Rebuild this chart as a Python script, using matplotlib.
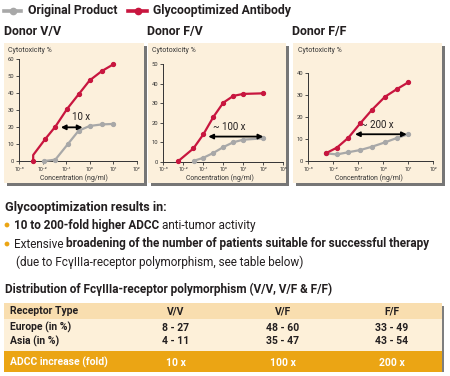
import matplotlib
matplotlib.use('Agg')
import matplotlib.pyplot as plt
from matplotlib.patches import Rectangle, Circle
from matplotlib.lines import Line2D
from matplotlib.ticker import FixedLocator, NullLocator

W, H = 450, 376
FAM = ['Roboto', 'DejaVu Sans']
RED = '#c8163f'
GRAY = '#a8a8a8'
DARK = '#231f20'
BEIGE = '#fcf0dc'
ORANGE = '#eba514'
TH_BG = '#f9deaf'
TB_BG = '#fdf0d9'

# ---------------- data ----------------
series_names = ['Original Product', 'Glycooptimized Antibody']
donors = ['Donor V/V', 'Donor F/V', 'Donor F/F']

vv_red_conc = [0.004, 0.004, 0.013, 0.035, 0.11, 0.34, 1.0, 3.3, 10.0]
vv_red_val = [0, 3.5, 12.9, 20.2, 30.6, 39.2, 47.4, 52.9, 56.8]
vv_gray_conc = [0.012, 0.035, 0.12, 0.34, 1.0, 3.2, 10.0]
vv_gray_val = [0, 0.8, 10.0, 17.8, 20.6, 21.5, 21.8]

fv_red_conc = [0.0056, 0.032, 0.1, 0.32, 1.0, 3.2, 10.0, 100.0]
fv_red_val = [0.3, 6.8, 14.0, 23.0, 30.3, 33.8, 34.8, 35.1]
fv_gray_conc = [0.035, 0.1, 0.32, 1.0, 3.2, 10.0, 100.0]
fv_gray_val = [0.5, 2.0, 4.5, 7.5, 10.0, 11.3, 12.0]

ff_conc = [0.005, 0.014, 0.04, 0.12, 0.35, 1.17, 3.5, 10.0]
ff_red_val = [3.5, 6.1, 10.6, 17.2, 23.3, 29.3, 32.8, 35.9]
ff_gray_val = [3.5, 3.0, 4.0, 5.0, 6.5, 8.5, 10.5, 12.2]

fold_labels = ['10 x', '~ 100 x', '~ 200 x']
arrow_from = [0.060, 0.178, 0.074]
arrow_to = [0.50, 100.0, 8.7]
arrow_y = [19.8, 12.9, 12.2]
label_x = [0.44, 1.95, 0.56]
label_y = [26.0, 18.0, 16.4]

y_max = [60, 50, 40]
x_max = [1e2, 1e3, 1e2]
SUP = {'-': '\u207b', '0': '\u2070', '1': '\u00b9', '2': '\u00b2', '3': '\u00b3'}

table_header = ['Receptor Type', 'V/V', 'V/F', 'F/F']
table_europe = ['Europe (in %)', '8 - 27', '48 - 60', '33 - 49']
table_asia = ['Asia (in %)', '4 - 11', '35 - 47', '43 - 54']
table_adcc = ['ADCC increase (fold)', '10 x', '100 x', '200 x']

# ---------------- figure ----------------
fig = plt.figure(figsize=(W / 100, H / 100), dpi=100)
fig.patch.set_facecolor('white')
bg = fig.add_axes([0, 0, 1, 1])
bg.set_xlim(0, W)
bg.set_ylim(H, 0)
bg.axis('off')
renderer = fig.canvas.get_renderer()


def width_of(s, size, weight='normal'):
    t = bg.text(0, 0, s, fontsize=size, fontweight=weight, family=FAM)
    w = t.get_window_extent(renderer).width
    t.remove()
    return w


def space_w(size, weight):
    return 0.8 * (width_of('a a', size, weight) - width_of('aa', size, weight))


def pieces_width(pieces, size):
    tot = 0
    for s, wt in pieces:
        st = s.rstrip(' ')
        tot += width_of(st, size, wt) + (len(s) - len(st)) * space_w(size, wt)
    return tot


def fit(pieces, target):
    return 10 * target / pieces_width(pieces, 10)


def put(x, y, pieces, size, color=DARK):
    cx = x
    for s, wt in pieces:
        st = s.rstrip(' ')
        bg.text(cx, y, st, fontsize=size, fontweight=wt, family=FAM,
                color=color, va='center', ha='left')
        cx += width_of(st, size, wt) + (len(s) - len(st)) * space_w(size, wt)


def sup_label(e):
    return '10' + ''.join(SUP[c] for c in str(e))


# legend
leg_size = fit([(series_names[0], 'bold')], 90)
bg.add_line(Line2D([4, 21], [10.7, 10.7], color=GRAY, lw=2.6))
bg.plot([12.5], [10.7], 'o', color=GRAY, ms=4.5)
put(28.3, 10.7, [(series_names[0], 'bold')], leg_size)
bg.add_line(Line2D([128, 147], [10.7, 10.7], color=RED, lw=2.6))
bg.plot([137.5], [10.7], 'o', color=RED, ms=4.5)
put(152.7, 10.7, [(series_names[1], 'bold')], leg_size)

# donor titles
don_size = fit([(donors[0], 'bold')], 57.7)
for x, d in zip([4, 146.7, 292], donors):
    put(x, 31.7, [(d, 'bold')], don_size)

# panels
panel_boxes = [(4, 42.7, 144, 183), (148, 42.7, 285.5, 183), (293, 42.7, 441.5, 183)]
axes_boxes = [(19, 136.7, 161, 59), (163.3, 283.3, 161.7, 64.3), (308.3, 433.3, 161, 73.3)]
xlabel_cx = [74, 220, 369]
cyto_x = [8.3, 151.7, 298.3]

small_size = fit([('Cytotoxicity %', 'normal')], 43)
conc_size = fit([('Concentration (ng/ml)', 'normal')], 68)
fold_size = fit([('~ 200 x', 'normal')], 33)

for (l, t, r, b) in panel_boxes:
    bg.add_patch(Rectangle((l + 3, t + 3), r - l, b - t, color='#5e5e5e', alpha=0.85, lw=0))
    bg.add_patch(Rectangle((l, t), r - l, b - t, color=BEIGE, lw=0))

red_sets = [(vv_red_conc, vv_red_val), (fv_red_conc, fv_red_val), (ff_conc, ff_red_val)]
gray_sets = [(vv_gray_conc, vv_gray_val), (fv_gray_conc, fv_gray_val), (ff_conc, ff_gray_val)]

for i in range(3):
    x0, x1, yb, yt = axes_boxes[i]
    ax = fig.add_axes([x0 / W, 1 - yb / H, (x1 - x0) / W, (yb - yt) / H])
    ax.set_facecolor('none')
    ax.set_xscale('log')
    ax.set_xlim(1e-3, x_max[i])
    ax.set_ylim(0, y_max[i])
    for s in ['top', 'right']:
        ax.spines[s].set_visible(False)
    for s in ['left', 'bottom']:
        ax.spines[s].set_linewidth(0.7)
        ax.spines[s].set_color('#333333')
    ax.xaxis.set_minor_locator(NullLocator())
    exps = list(range(-3, 3 if x_max[i] == 1e2 else 4))
    ax.xaxis.set_major_locator(FixedLocator([10.0 ** e for e in exps]))
    ax.set_xticklabels([sup_label(e) for e in exps])
    ax.set_yticks(list(range(0, y_max[i] + 1, 10)))
    ax.tick_params(axis='both', direction='out', length=2, width=0.6,
                   colors='#333333', labelsize=4.2, pad=1.5)
    ax.tick_params(axis='x', labelsize=3.8, pad=2)
    for lab in ax.get_yticklabels() + ax.get_xticklabels():
        lab.set_family(FAM)
    gx, gy = gray_sets[i]
    ax.plot(gx, gy, '-o', color=GRAY, lw=1.6, ms=2.8, clip_on=False, zorder=3)
    rx, ry = red_sets[i]
    me = [k for k in range(len(rx)) if not (i == 0 and k == 1)]
    ax.plot(rx, ry, '-o', color=RED, lw=1.6, ms=2.8, markevery=me, clip_on=False, zorder=4)
    ax.annotate('', xy=(arrow_to[i], arrow_y[i]), xytext=(arrow_from[i], arrow_y[i]),
                arrowprops=dict(arrowstyle='<|-|>', color='black', lw=1.3,
                                mutation_scale=7, shrinkA=0, shrinkB=0), zorder=5)
    ax.text(label_x[i], label_y[i], fold_labels[i], fontsize=fold_size, family=FAM,
            ha='center', va='center', color=DARK)
    put(cyto_x[i], 50, [('Cytotoxicity %', 'normal')], small_size, color='#333333')
    bg.text(xlabel_cx[i], 177.7, 'Concentration (ng/ml)', fontsize=conc_size, family=FAM,
            ha='center', va='center', color='#333333')

# text section
head = [('Glycooptimization results in:', 'bold')]
put(5, 207.3, head, fit(head, 163))
line2 = [('Extensive ', 'normal'),
         ('broadening of the number of patients suitable for successful therapy', 'bold')]
body_size = fit(line2, 418)
line1 = [('10 to 200-fold higher ADCC ', 'bold'), ('anti-tumor activity', 'normal')]
line3 = [('(due to Fc\u03b3IIIa-receptor polymorphism, see table below)', 'normal')]
for yb_ in [225, 244]:
    bg.add_patch(Circle((7, yb_), 2.4, color=ORANGE, lw=0))
put(14.5, 225, line1, body_size)
put(14.3, 244, line2, body_size)
put(16, 262.3, line3, body_size)
dist = [('Distribution of Fc\u03b3IIIa-receptor polymorphism (V/V, V/F & F/F)', 'bold')]
put(5, 289.3, dist, fit(dist, 330))

# table
tl, tr = 4, 441.7
bg.add_patch(Rectangle((tl + 2.5, 305.5), tr - tl, 370 - 303.3, color='#5e5e5e', alpha=0.8, lw=0))
bg.add_patch(Rectangle((tl, 303.3), tr - tl, 319.3 - 303.3, color=TH_BG, lw=0))
bg.add_patch(Rectangle((tl, 319.3), tr - tl, 351 - 319.3, color=TB_BG, lw=0))
bg.add_patch(Rectangle((tl, 351), tr - tl, 372 - 351, color=ORANGE, lw=0))
tab_size = fit([(table_adcc[0], 'bold')], 98)
col_cx = [175.5, 283, 392]
rows = [(table_header, 311.3, DARK), (table_europe, 327.7, DARK),
        (table_asia, 341, DARK), (table_adcc, 362.5, 'white')]
for row, y, c in rows:
    bg.text(10, y, row[0], fontsize=tab_size, fontweight='bold', family=FAM,
            color=c, ha='left', va='center')
    for cx, v in zip(col_cx, row[1:]):
        bg.text(cx, y, v, fontsize=tab_size, fontweight='bold', family=FAM,
                color=c, ha='center', va='center')

fig.savefig('out.png', dpi=100, facecolor='white')
